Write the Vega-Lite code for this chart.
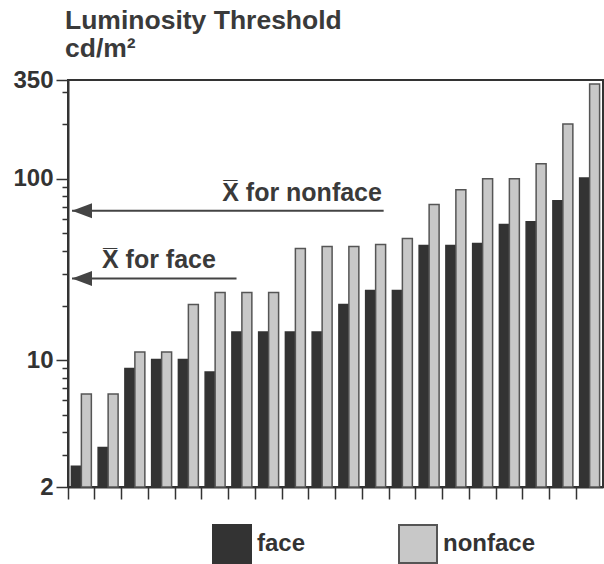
{
  "$schema": "https://vega.github.io/schema/vega-lite/v6.json",
  "width": 535,
  "height": 407,
  "autosize": "none",
  "padding": {"left": 68, "top": 80, "right": 1, "bottom": 77},
  "background": "white",
  "title": {
    "text": ["Luminosity Threshold", "cd/m²"],
    "anchor": "start",
    "frame": "group",
    "font": "Liberation Sans",
    "fontSize": 26.5,
    "fontWeight": "bold",
    "color": "#3a3a3a",
    "offset": 6,
    "dx": -3,
    "lineHeight": 28
  },
  "config": {
    "view": {"stroke": "#333", "strokeWidth": 2},
    "axis": {
      "domainColor": "#333",
      "domainWidth": 2,
      "tickColor": "#333",
      "tickWidth": 1.5,
      "grid": false,
      "labelFont": "Liberation Sans",
      "labelFontWeight": "bold",
      "labelColor": "#333",
      "title": null
    },
    "legend": {
      "orient": "none",
      "legendX": 144,
      "legendY": 444,
      "direction": "horizontal",
      "symbolType": "square",
      "symbolSize": 1444,
      "symbolStrokeWidth": 2,
      "labelFont": "Liberation Sans",
      "labelFontSize": 24,
      "labelFontWeight": "bold",
      "labelColor": "#333",
      "labelOffset": 5,
      "columnPadding": 89,
      "padding": 0
    }
  },
  "datasets": {
    "bars": [
      {"subject": 1, "type": "face", "value": 2.6},
      {"subject": 1, "type": "nonface", "value": 6.5},
      {"subject": 2, "type": "face", "value": 3.3},
      {"subject": 2, "type": "nonface", "value": 6.5},
      {"subject": 3, "type": "face", "value": 9.0},
      {"subject": 3, "type": "nonface", "value": 11.1},
      {"subject": 4, "type": "face", "value": 10.1},
      {"subject": 4, "type": "nonface", "value": 11.1},
      {"subject": 5, "type": "face", "value": 10.1},
      {"subject": 5, "type": "nonface", "value": 20.3},
      {"subject": 6, "type": "face", "value": 8.6},
      {"subject": 6, "type": "nonface", "value": 23.6},
      {"subject": 7, "type": "face", "value": 14.3},
      {"subject": 7, "type": "nonface", "value": 23.6},
      {"subject": 8, "type": "face", "value": 14.3},
      {"subject": 8, "type": "nonface", "value": 23.6},
      {"subject": 9, "type": "face", "value": 14.3},
      {"subject": 9, "type": "nonface", "value": 41.2},
      {"subject": 10, "type": "face", "value": 14.3},
      {"subject": 10, "type": "nonface", "value": 42.3},
      {"subject": 11, "type": "face", "value": 20.3},
      {"subject": 11, "type": "nonface", "value": 42.3},
      {"subject": 12, "type": "face", "value": 24.2},
      {"subject": 12, "type": "nonface", "value": 43.4},
      {"subject": 13, "type": "face", "value": 24.2},
      {"subject": 13, "type": "nonface", "value": 46.8},
      {"subject": 14, "type": "face", "value": 42.8},
      {"subject": 14, "type": "nonface", "value": 72},
      {"subject": 15, "type": "face", "value": 42.8},
      {"subject": 15, "type": "nonface", "value": 87},
      {"subject": 16, "type": "face", "value": 43.9},
      {"subject": 16, "type": "nonface", "value": 100},
      {"subject": 17, "type": "face", "value": 55.9},
      {"subject": 17, "type": "nonface", "value": 100},
      {"subject": 18, "type": "face", "value": 58},
      {"subject": 18, "type": "nonface", "value": 121},
      {"subject": 19, "type": "face", "value": 75.7},
      {"subject": 19, "type": "nonface", "value": 200},
      {"subject": 20, "type": "face", "value": 101},
      {"subject": 20, "type": "nonface", "value": 333}
    ],
    "means": [
      {"label": "X̅ for nonface", "mean": 66.7, "from": 0.15, "to": 11.8, "textAt": 8.75},
      {"label": "X̅ for face", "mean": 28.2, "from": 0.15, "to": 6.3, "textAt": 3.4}
    ]
  },
  "layer": [
    {
      "data": {"name": "bars"},
      "mark": {"type": "bar", "strokeWidth": 1.5},
      "encoding": {
        "x": {
          "field": "subject",
          "type": "ordinal",
          "scale": {"paddingInner": 0, "paddingOuter": 0},
          "axis": {"labels": false, "ticks": true, "tickSize": 12, "bandPosition": 0, "domain": true}
        },
        "xOffset": {
          "field": "type",
          "type": "nominal",
          "scale": {"paddingInner": 0, "paddingOuter": 0.34}
        },
        "y": {
          "field": "value",
          "type": "quantitative",
          "scale": {"type": "log", "domain": [2, 350], "nice": false},
          "axis": {
            "values": [2, 3, 4, 5, 6, 7, 8, 9, 10, 20, 30, 40, 50, 60, 70, 80, 90, 100, 200, 300, 350],
            "format": "d",
            "labelExpr": "(datum.value == 2 || datum.value == 10 || datum.value == 100 || datum.value == 350) ? datum.label : ''",
            "labelFontSize": 24,
            "labelPadding": 3,
            "tickSize": {"condition": {"test": "datum.value == 2 || datum.value == 10 || datum.value == 100 || datum.value == 350", "value": 12}, "value": 6}
          }
        },
        "y2": {"datum": 2},
        "fill": {
          "field": "type",
          "type": "nominal",
          "scale": {"domain": ["face", "nonface"], "range": ["#333333", "#c8c8c8"]},
          "legend": {"title": null}
        },
        "stroke": {
          "field": "type",
          "type": "nominal",
          "scale": {"domain": ["face", "nonface"], "range": ["#333333", "#555555"]},
          "legend": {"title": null}
        }
      }
    },
    {
      "data": {"name": "means"},
      "layer": [
        {
          "mark": {"type": "rule", "color": "#444", "strokeWidth": 2},
          "encoding": {
            "x": {"field": "from", "type": "quantitative", "scale": {"domain": [0, 20]}, "axis": null},
            "x2": {"field": "to"},
            "y": {"field": "mean", "type": "quantitative"}
          }
        },
        {
          "mark": {"type": "point", "shape": "M0,0L2,-0.75L2,0.75Z", "size": 400, "filled": true, "color": "#444", "opacity": 1},
          "encoding": {
            "x": {"field": "from", "type": "quantitative", "scale": {"domain": [0, 20]}, "axis": null},
            "y": {"field": "mean", "type": "quantitative"}
          }
        },
        {
          "mark": {"type": "text", "font": "Liberation Sans", "fontSize": 25, "fontWeight": "bold", "color": "#3a3a3a", "align": "center", "baseline": "alphabetic", "dy": -10},
          "encoding": {
            "x": {"field": "textAt", "type": "quantitative", "scale": {"domain": [0, 20]}, "axis": null},
            "y": {"field": "mean", "type": "quantitative"},
            "text": {"field": "label"}
          }
        }
      ]
    }
  ],
  "resolve": {"scale": {"x": "independent"}, "axis": {"x": "independent"}}
}
